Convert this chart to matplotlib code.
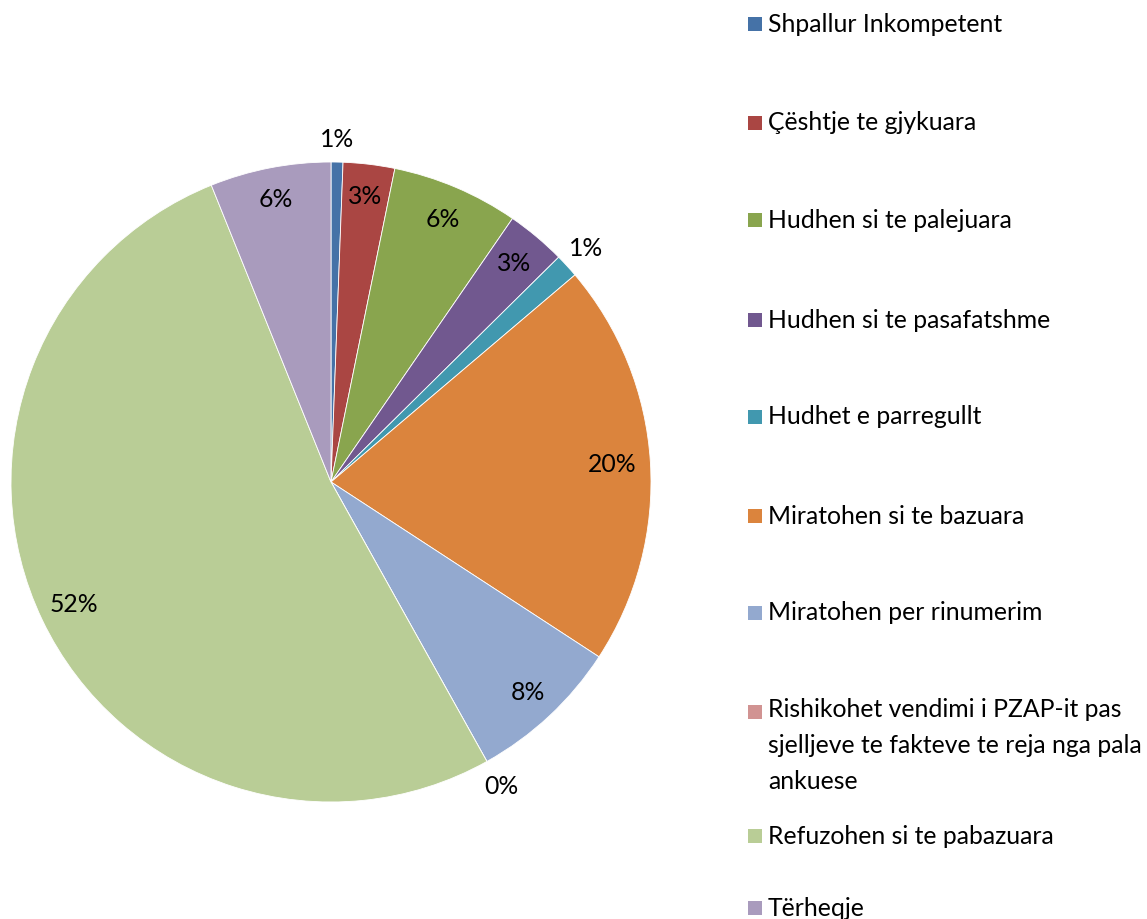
import numpy as np
import matplotlib
matplotlib.use("Agg")
import matplotlib.pyplot as plt
from matplotlib.patches import Rectangle

categories = [
    "Shpallur Inkompetent",
    "Çështje te gjykuara",
    "Hudhen si te palejuara",
    "Hudhen si te pasafatshme",
    "Hudhet e parregullt",
    "Miratohen si te bazuara",
    "Miratohen per rinumerim",
    "Rishikohet vendimi i PZAP-it pas\nsjelljeve te fakteve te reja nga pala\nankuese",
    "Refuzohen si te pabazuara",
    "Tërheqje",
]
values = [0.6, 2.6, 6.4, 3.0, 1.2, 20.4, 7.7, 0.0, 52.0, 6.1]
colors = ["#4572A7", "#AA4643", "#89A54E", "#71588F", "#4198AF",
          "#DB843D", "#93A9CF", "#D19392", "#B9CD96", "#A99BBD"]
label_dist = [1.07, 0.90, 0.89, 0.89, 1.08, 0.88, 0.90, 1.09, 0.89, 0.90]
legend_y = [24, 123, 220, 320, 417, 516, 613, 712, 836, 908]  # pixel rows

FONT = "Lato"
FS = 17.8

W, H = 1147, 919
fig = plt.figure(figsize=(W / 100, H / 100), dpi=100)
ax = fig.add_axes([11 / W, (H - 802) / H, 640 / W, 640 / H])
wedges, _ = ax.pie(values, colors=colors, startangle=90, counterclock=False,
                   radius=1.0, wedgeprops=dict(edgecolor="white", linewidth=0.6))
ax.set_xlim(-1, 1)
ax.set_ylim(-1, 1)
ax.set_aspect("equal")
ax.axis("off")

total = sum(values)
for w, v, d in zip(wedges, values, label_dist):
    ang = np.deg2rad((w.theta1 + w.theta2) / 2)
    ax.text(d * np.cos(ang), d * np.sin(ang), f"{v / total * 100:.0f}%",
            ha="center", va="center", fontsize=FS, family=FONT, color="black")

for y, lab, c in zip(legend_y, categories, colors):
    fig.patches.append(Rectangle((748 / W, 1 - (y + 7) / H), 14 / W, 14 / H,
                                 transform=fig.transFigure, facecolor=c,
                                 edgecolor="none"))
    if "\n" in lab:
        fig.text(768 / W, 1 - (y - 14) / H, lab, ha="left", va="top",
                 fontsize=FS, family=FONT, linespacing=1.68)
    else:
        fig.text(768 / W, 1 - y / H, lab, ha="left", va="center",
                 fontsize=FS, family=FONT)

fig.savefig("out.png", dpi=100)
